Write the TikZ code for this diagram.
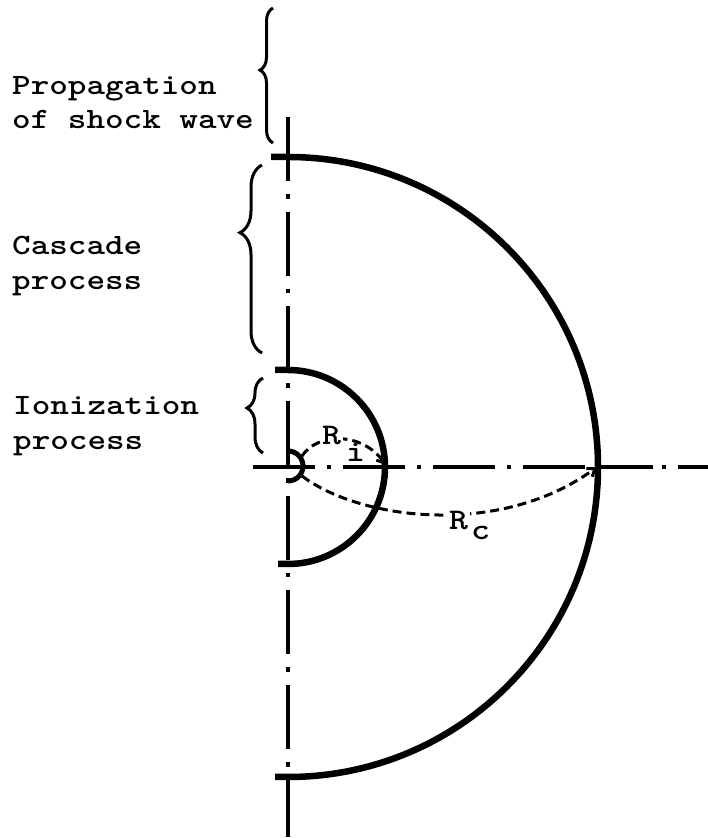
\documentclass[tikz,border=0pt]{standalone}
\usepackage{graphicx}
\usetikzlibrary{decorations.pathreplacing,arrows.meta}
\newcommand\twtext[1]{\scalebox{1.2}[1]{#1}}
\begin{document}
\begin{tikzpicture}[x=1pt,y=1pt,
  lbl/.style={anchor=base west, inner sep=0pt, font=\ttfamily\bfseries\fontsize{29.5}{34}\selectfont},
  rlbl/.style={anchor=base west, inner sep=1.5pt, font=\ttfamily\bfseries\fontsize{30}{32}\selectfont},
  axisline/.style={line width=3.2pt},
  front/.style={line width=6.5pt, line join=round},
  curly/.style={line width=3pt, decorate},
  radline/.style={line width=3pt, dash pattern=on 9pt off 5pt, -{Straight Barb[length=7pt,width=10pt]}}
]
\useasboundingbox (0,0) rectangle (708,838);

% axes
\draw[axisline, dash pattern=on 64pt off 13pt on 4.7pt off 13pt] (288,721) -- (288,1);
\draw[axisline, dash pattern=on 62pt off 12pt on 4pt off 12pt] (253,371) -- (598,371);
\draw[axisline, dash pattern=on 53pt off 9pt on 4pt off 12pt] (600,371) -- (708,371);

% fronts
\draw[front] (271,681) -- (288,681) arc[start angle=90, end angle=-90, radius=310] -- (275,61);
\draw[front] (275,468) -- (288,468) arc[start angle=90, end angle=-90, radius=97] -- (278,274);
\draw[line width=5pt] (288,387) arc[start angle=90, end angle=-90, radius=15];

% braces
\draw[curly, decoration={brace, amplitude=13pt, aspect=0.54}] (273,695) -- (273,830);
\draw[curly, decoration={brace, amplitude=22pt, aspect=0.64}] (262,485) -- (262,673);
\draw[curly, decoration={brace, amplitude=16pt, aspect=0.6}] (263,385) -- (263,460);

% labels
\node[lbl] (prop1) at (12,743) {\twtext{Propagation}};
\node[lbl] (prop2) at (12,709) {\twtext{of shock wave}};
\node[lbl] (casc1) at (12,583) {\twtext{Cascade}};
\node[lbl] (casc2) at (12,548) {\twtext{process}};
\node[lbl] (ion1) at (13,423) {\twtext{Ionization}};
\node[lbl] (ion2) at (13,388) {\twtext{process}};

% radius lines
\coordinate (ri0) at (302,382);
\coordinate (ri1) at (386,373);
\coordinate (rc0) at (302,362);
\coordinate (rc1) at (597,371);
\draw[radline] (ri0) .. controls (318,406) and (362,406) .. (ri1);
\draw[radline] (rc0) .. controls (360,318) and (500,300) .. (rc1);

\node[rlbl, fill=white] (Ri) at (320.5,393) {\twtext{R}};
\node[rlbl] (Risub) at (344.5,376) {\twtext{i}};
\node[rlbl, fill=white] (Rc) at (447.5,308) {\twtext{R}};
\node[rlbl] (Rcsub) at (469.5,298) {\twtext{c}};
\end{tikzpicture}
\end{document}
